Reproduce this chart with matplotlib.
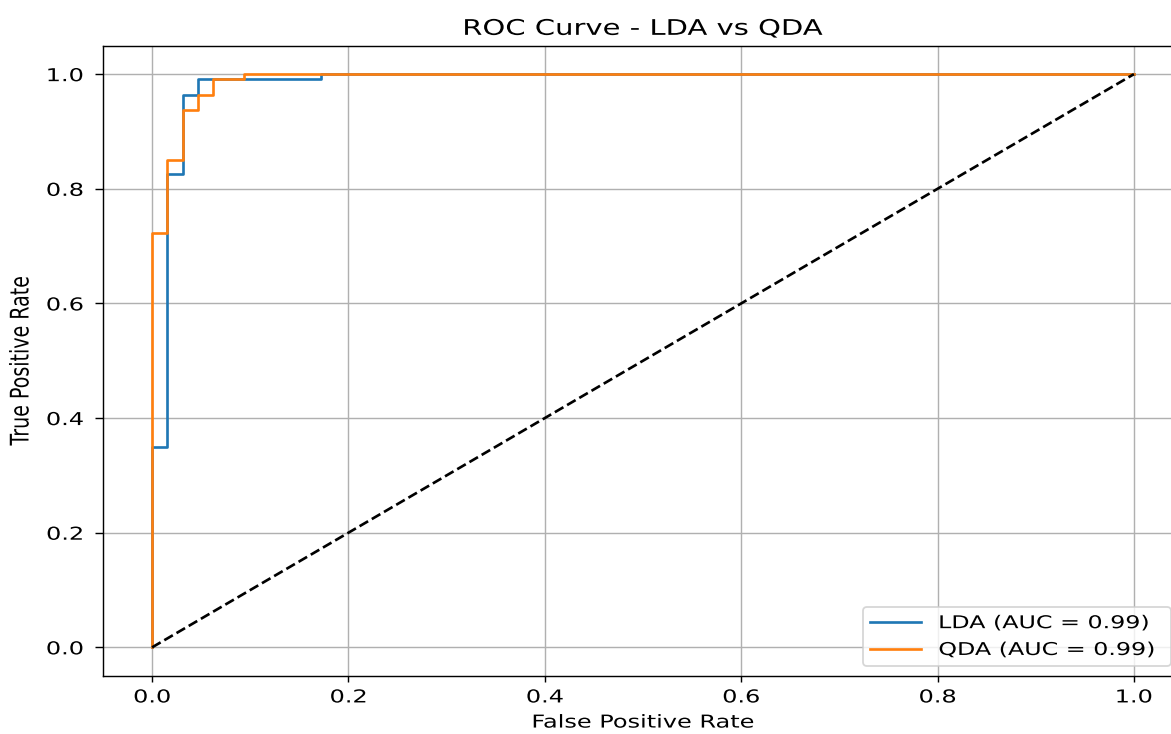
import matplotlib
matplotlib.use("Agg")
import matplotlib.pyplot as plt
from matplotlib.patheffects import AbstractPathEffect
from matplotlib.transforms import Affine2D

# ROC data
lda_fpr = [0.0, 0.0, 0.0156, 0.0156, 0.0313, 0.0313, 0.0469, 0.0469, 0.1719, 0.1719, 1.0]
lda_tpr = [0.0, 0.350, 0.350, 0.826, 0.826, 0.964, 0.964, 0.991, 0.991, 1.0, 1.0]
qda_fpr = [0.0, 0.0, 0.0156, 0.0156, 0.0313, 0.0313, 0.0469, 0.0469, 0.0625, 0.0625, 0.0938, 0.0938, 1.0]
qda_tpr = [0.0, 0.723, 0.723, 0.851, 0.851, 0.937, 0.937, 0.964, 0.964, 0.991, 0.991, 1.0, 1.0]
lda_label = "LDA (AUC = 0.99)"
qda_label = "QDA (AUC = 0.99)"
chance = [0.0, 1.0]
ticks = [0.0, 0.2, 0.4, 0.6, 0.8, 1.0]

SX = 1.35  # the reference's text is widened horizontally


class Stretch(AbstractPathEffect):
    """Stretch glyphs in their local frame about an anchor of their ink box."""

    def __init__(self, sx=1.0, sy=1.0, xfrac=0.5, yfrac=None):
        super().__init__()
        self.sx, self.sy, self.xfrac, self.yfrac = sx, sy, xfrac, yfrac

    def draw_path(self, renderer, gc, tpath, affine, rgbFace=None):
        ext = tpath.get_extents()
        ax_ = ext.x0 + self.xfrac * ext.width
        ay_ = 0.0 if self.yfrac is None else ext.y0 + self.yfrac * ext.height
        pre = Affine2D().translate(-ax_, -ay_).scale(self.sx, self.sy).translate(ax_, ay_)
        renderer.draw_path(gc, tpath, pre + affine, rgbFace)


dpi = 128
W, H = 1171, 734
fig = plt.figure(figsize=(W / dpi, H / dpi), dpi=dpi)
L, R, T, B = 103, 1183, 45.5, 676
ax = fig.add_axes([L / W, (H - B) / H, (R - L) / W, (B - T) / H])

ax.plot(lda_fpr, lda_tpr, label=lda_label)
ax.plot(qda_fpr, qda_tpr, label=qda_label)
ax.plot(chance, chance, "k--")
ax.set_xlim(-0.05, 1.05)
ax.set_ylim(-0.05, 1.05)
ax.set_xticks(ticks)
ax.set_yticks(ticks)
ax.tick_params(axis="y", length=4.5, pad=6.5)
ax.grid(True)

xl = ax.set_xlabel("False Positive Rate")
xl.set_path_effects([Stretch(sx=SX, xfrac=0.5)])
yl = ax.set_ylabel("True Positive Rate", fontsize=10.7)
yl.set_path_effects([Stretch(sy=SX, xfrac=0.5, yfrac=None)])
ax.yaxis.set_label_coords((32.5 - L) / (R - L), 0.5)
tl = ax.set_title("ROC Curve - LDA vs QDA", fontsize=12.1)
tl.set_path_effects([Stretch(sx=SX, xfrac=0.5)])

for lab in ax.get_xticklabels():
    lab.set_path_effects([Stretch(sx=SX, xfrac=0.5)])
for lab in ax.get_yticklabels():
    lab.set_path_effects([Stretch(sx=SX, xfrac=1.0)])

lx0 = (863 - L) / (R - L)
lx1 = (1171 - L) / (R - L)
ly0 = (B - 666) / (B - T)
leg = ax.legend(loc="lower left", bbox_to_anchor=(lx0, ly0, lx1 - lx0, 0.2),
                mode="expand", borderaxespad=0.0, handlelength=2.9,
                handletextpad=1.0, fontsize=9.9)
for t in leg.get_texts():
    t.set_path_effects([Stretch(sx=SX, xfrac=0.0)])

fig.savefig("out.png", dpi=dpi)
